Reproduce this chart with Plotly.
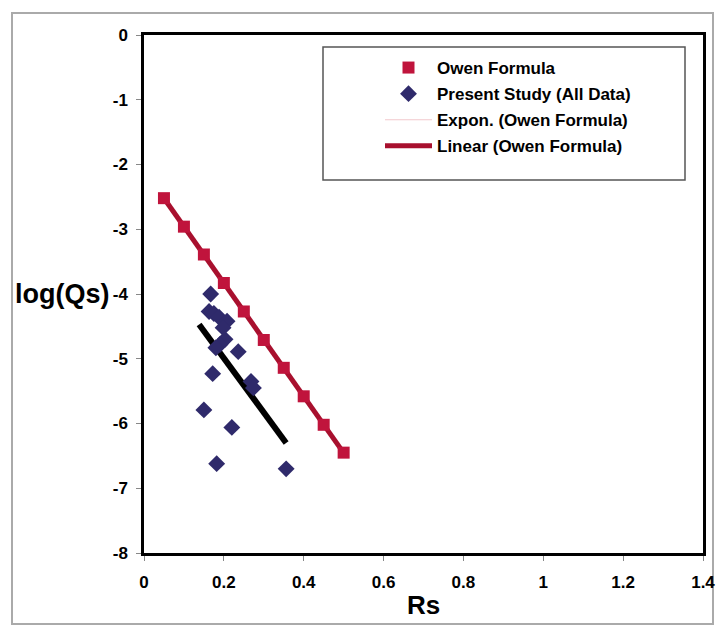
import numpy as np
import plotly.graph_objects as go

# ---- data ----
owen_rs = [0.05, 0.10, 0.15, 0.20, 0.25, 0.30, 0.35, 0.40, 0.45, 0.50]
owen_logqs = [-2.52, -2.96, -3.39, -3.83, -4.27, -4.71, -5.14, -5.58, -6.02, -6.45]

study_rs = [0.167, 0.163, 0.175, 0.188, 0.208, 0.198, 0.203, 0.190, 0.180, 0.236,
            0.172, 0.268, 0.274, 0.150, 0.220, 0.182, 0.356]
study_logqs = [-4.00, -4.27, -4.30, -4.36, -4.42, -4.52, -4.70, -4.78, -4.83, -4.89,
               -5.23, -5.35, -5.45, -5.79, -6.06, -6.62, -6.70]

study_fit_rs = [0.138, 0.356]
study_fit_logqs = [-4.47, -6.30]

x_ticks = [0, 0.2, 0.4, 0.6, 0.8, 1, 1.2, 1.4]
x_ticklabels = ["0", "0.2", "0.4", "0.6", "0.8", "1", "1.2", "1.4"]
y_ticks = [0, -1, -2, -3, -4, -5, -6, -7, -8]
y_ticklabels = ["0", "-1", "-2", "-3", "-4", "-5", "-6", "-7", "-8"]

# linear trendline of Owen formula
coef = np.polyfit(owen_rs, owen_logqs, 1)
lin_x = [min(owen_rs), max(owen_rs)]
lin_y = [coef[0] * v + coef[1] for v in lin_x]

FONT = "Arial, Liberation Sans, sans-serif"
RED = "#c0143c"
NAVY = "#2f2a6b"

L, R, T, B = 144, 14, 35, 73
W, H = 717, 626
PW = W - L - R
PH = H - T - B


def px(xp):
    return (xp - L) / PW


def py(yp):
    return 1 - (yp - T) / PH


fig = go.Figure()

fig.add_trace(go.Scatter(
    x=lin_x, y=lin_y, mode="lines", name="Linear (Owen Formula)",
    line=dict(color="#a8102e", width=5), legendrank=4, legendgroup="d"))
fig.add_trace(go.Scatter(
    x=study_fit_rs, y=study_fit_logqs, mode="lines", showlegend=False,
    line=dict(color="black", width=6)))
fig.add_trace(go.Scatter(
    x=owen_rs, y=owen_logqs, mode="markers", name="Owen Formula",
    marker=dict(symbol="square", size=12, color=RED), legendrank=1, legendgroup="a"))
fig.add_trace(go.Scatter(
    x=study_rs, y=study_logqs, mode="markers", name="Present Study (All Data)",
    marker=dict(symbol="diamond", size=13, color=NAVY), legendrank=2, legendgroup="b"))
fig.add_trace(go.Scatter(
    x=[None], y=[None], mode="lines", name="Expon. (Owen Formula)",
    line=dict(color="#f2c8cc", width=1), legendrank=3, legendgroup="c"))

fig.update_layout(
    width=W, height=H,
    margin=dict(l=L, r=R, t=T, b=B),
    paper_bgcolor="white", plot_bgcolor="white",
    font=dict(family=FONT, color="black"),
    showlegend=True,
    legend=dict(
        x=px(380), y=py(50), xanchor="left", yanchor="top",
        bgcolor="rgba(0,0,0,0)", borderwidth=0,
        font=dict(family=FONT, size=17, color="black", weight="bold"),
        traceorder="grouped", tracegroupgap=1, itemwidth=47,
    ),
    xaxis=dict(
        range=[0, 1.4], tickvals=x_ticks, ticktext=x_ticklabels,
        showgrid=False, zeroline=False, automargin=False,
        ticklabeloverflow="allow",
        showline=True, mirror=True, linecolor="black", linewidth=2.5,
        ticks="outside", ticklen=5, tickcolor="#888", tickwidth=1,
        tickfont=dict(family=FONT, size=17, weight="bold"),
        ticklabelstandoff=7,
        title=dict(text="Rs", font=dict(family=FONT, size=26, weight="bold"), standoff=5),
    ),
    yaxis=dict(
        range=[-8, 0], tickvals=y_ticks, ticktext=y_ticklabels,
        showgrid=False, zeroline=False, automargin=False,
        ticklabeloverflow="allow",
        showline=True, mirror=True, linecolor="black", linewidth=2.5,
        ticks="outside", ticklen=5, tickcolor="#888", tickwidth=1,
        tickfont=dict(family=FONT, size=17, weight="bold"),
        ticklabelstandoff=5,
    ),
    shapes=[
        dict(type="rect", xref="paper", yref="paper",
             x0=px(323), x1=px(685), y0=py(180), y1=py(47),
             line=dict(color="#555", width=1.5), fillcolor="rgba(0,0,0,0)", layer="below"),
        dict(type="rect", xref="paper", yref="paper",
             x0=px(12), x1=px(713), y0=py(624), y1=py(13),
             line=dict(color="#aaa", width=2), fillcolor="rgba(0,0,0,0)", layer="below"),
    ],
    annotations=[
        dict(text="log(Qs)", xref="paper", yref="y", x=px(112), y=-4,
             xanchor="right", yanchor="middle", showarrow=False,
             font=dict(family=FONT, size=27, weight="bold")),
    ],
)

fig.write_html("out.html")
